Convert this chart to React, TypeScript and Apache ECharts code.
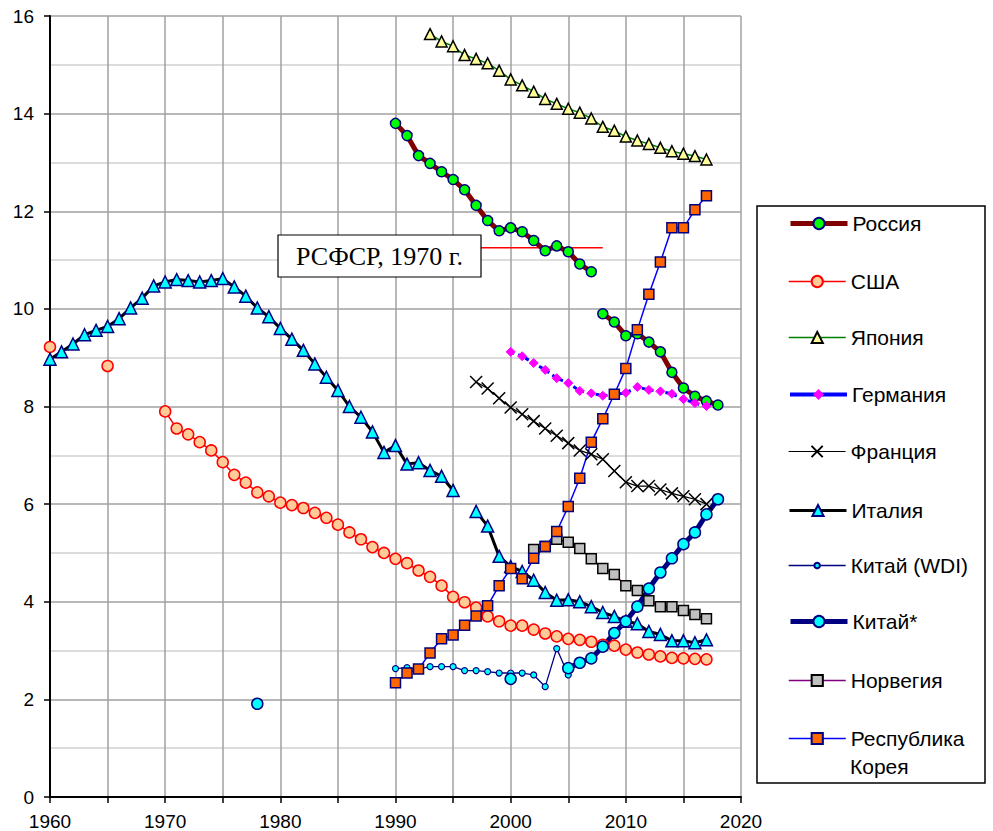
import React, { useEffect, useRef } from 'react';
import * as echarts from 'echarts';

// ---------- data ----------
const xMin = 1960;
const xMax = 2020;
const yMin = 0;
const yMax = 16;

const russiaStartA = 1990;
const russiaA = [13.8, 13.55, 13.14, 12.98, 12.81, 12.65, 12.44, 12.12, 11.81, 11.6, 11.66, 11.58, 11.4, 11.19, 11.29, 11.17, 10.92, 10.76];
const russiaStartB = 2008;
const russiaB = [9.9, 9.73, 9.45, 9.49, 9.32, 9.12, 8.7, 8.38, 8.21, 8.11, 8.03];

const usaEarly1960 = [9.22];
const usaEarly1965 = [8.83];
const usaStart = 1970;
const usaMain = [7.9, 7.55, 7.43, 7.27, 7.1, 6.86, 6.6, 6.44, 6.24, 6.16, 6.03, 5.98, 5.92, 5.82, 5.72, 5.58, 5.42, 5.28, 5.12, 5.0, 4.88, 4.79, 4.64, 4.51, 4.33, 4.1, 3.99, 3.88, 3.7, 3.6, 3.51, 3.51, 3.43, 3.35, 3.29, 3.24, 3.22, 3.18, 3.12, 3.1, 3.02, 2.96, 2.92, 2.88, 2.85, 2.84, 2.83, 2.82];

const japanStart = 1993;
const japan = [15.63, 15.48, 15.38, 15.2, 15.12, 15.03, 14.88, 14.7, 14.58, 14.45, 14.3, 14.2, 14.1, 14.02, 13.9, 13.73, 13.65, 13.53, 13.45, 13.38, 13.3, 13.23, 13.18, 13.13, 13.06];

const germanyStart = 2000;
const germany = [9.12, 9.03, 8.89, 8.75, 8.58, 8.48, 8.32, 8.27, 8.22, 8.25, 8.28, 8.4, 8.34, 8.31, 8.26, 8.15, 8.07, 8.01];

const franceStart = 1997;
const france = [8.5, 8.37, 8.17, 7.98, 7.84, 7.7, 7.55, 7.4, 7.25, 7.1, 7.02, 6.92, 6.68, 6.45, 6.37, 6.37, 6.3, 6.22, 6.16, 6.1, 6.0];

const italyStartA = 1960;
const italyA = [8.97, 9.12, 9.28, 9.47, 9.56, 9.64, 9.8, 10.02, 10.22, 10.47, 10.55, 10.6, 10.58, 10.55, 10.58, 10.62, 10.45, 10.26, 10.02, 9.84, 9.6, 9.38, 9.15, 8.87, 8.6, 8.33, 8.0, 7.78, 7.48, 7.06, 7.2, 6.82, 6.85, 6.69, 6.57, 6.28];
const italyStartB = 1997;
const italyB = [5.85, 5.55, 4.93, 4.72, 4.62, 4.44, 4.19, 4.03, 4.04, 4.0, 3.9, 3.78, 3.7, 3.6, 3.55, 3.39, 3.33, 3.2, 3.2, 3.16, 3.22];

const chinaWdiStart = 1990;
const chinaWdi = [2.63, 2.65, 2.62, 2.67, 2.67, 2.67, 2.59, 2.59, 2.57, 2.54, 2.54, 2.54, 2.5, 2.26, 3.04, 2.5];

const chinaStar1978 = [1.91];
const chinaStar2000 = [2.42];
const chinaStarStart = 2005;
const chinaStar = [2.64, 2.75, 2.84, 3.08, 3.36, 3.6, 3.9, 4.27, 4.6, 4.89, 5.18, 5.42, 5.79, 6.1];

const norwayStart = 2002;
const norway = [5.07, 5.13, 5.28, 5.22, 5.09, 4.88, 4.68, 4.56, 4.33, 4.23, 4.02, 3.9, 3.9, 3.82, 3.74, 3.65];

const koreaStart = 1990;
const korea = [2.34, 2.54, 2.62, 2.95, 3.24, 3.32, 3.52, 3.71, 3.92, 4.33, 4.68, 4.47, 4.89, 5.13, 5.44, 5.95, 6.53, 7.27, 7.75, 8.25, 8.78, 9.57, 10.3, 10.96, 11.66, 11.66, 12.03, 12.32];

const rsfsrYears = [1990, 2008];
const rsfsrValue = 11.25;
const rsfsrLabel = 'РСФСР, 1970 г.';

const names = ['Россия', 'США', 'Япония', 'Германия', 'Франция', 'Италия', 'Китай (WDI)', 'Китай*', 'Норвегия', 'Республика Корея'];

// ---------- helpers ----------
type Seg = [number, number[]];
function build(segs: Seg[]) {
  const out: any[] = [];
  segs.forEach(([start, vals], i) => {
    if (i > 0) out.push([start - 0.5, '-']);
    vals.forEach((v, j) => out.push([start + j, v]));
  });
  return out;
}

const FONT = "'Liberation Sans', Arial, sans-serif";
const X_PATH = 'path://M0,0L10,10M10,0L0,10';

// legend layout (pixel centres of each legend row)
const legendCenters = [223, 281, 337, 394, 451, 510, 565, 621, 680, 738];
const legendIconHeights = [14, 14, 14, 10, 14, 14, 7, 14, 14, 14];

export default function App() {
  const ref = useRef<HTMLDivElement>(null);
  useEffect(() => {
    if (!ref.current) return;
    const chart = echarts.init(ref.current, undefined, { renderer: 'svg' });

    const mk = (name: string, data: any[], line: any, sym: any, symbolSize: number, item: any) => ({
      name,
      type: 'line',
      data,
      symbol: sym,
      symbolSize,
      showSymbol: true,
      connectNulls: false,
      lineStyle: line,
      itemStyle: item,
      emphasis: { disabled: true },
    });

    const lines: any[] = [
      { color: '#800000', width: 5 },
      { color: '#ff0000', width: 1.5 },
      { color: '#008000', width: 1.5 },
      { color: '#0000ff', width: 3, type: [4, 4] },
      { color: '#000000', width: 1.2 },
      { color: '#000000', width: 3 },
      { color: '#000080', width: 1.3 },
      { color: '#000080', width: 5 },
      { color: '#800080', width: 1.5 },
      { color: '#0000ff', width: 1.5 },
    ];

    const series: any[] = [
      {
        name: 'rsfsr',
        type: 'line',
        data: rsfsrYears.map((y) => [y, rsfsrValue]),
        symbol: 'none',
        lineStyle: { color: '#ff0000', width: 1.5 },
        z: 1,
      },
      mk(names[0], build([[russiaStartA, russiaA], [russiaStartB, russiaB]]), lines[0], 'circle', 10, { color: '#00ff00', borderColor: '#000080', borderWidth: 1.5 }),
      mk(names[1], build([[1960, usaEarly1960], [1965, usaEarly1965], [usaStart, usaMain]]), lines[1], 'circle', 11, { color: '#ffcc99', borderColor: '#ff0000', borderWidth: 1.5 }),
      mk(names[2], build([[japanStart, japan]]), lines[2], 'triangle', 11, { color: '#ffff99', borderColor: '#000000', borderWidth: 1.5 }),
      mk(names[3], build([[germanyStart, germany]]), lines[3], 'diamond', 9, { color: '#ff00ff', borderColor: '#ff00ff', borderWidth: 1 }),
      mk(names[4], build([[franceStart, france]]), lines[4], X_PATH, 12, { color: '#000000', borderColor: '#000000', borderWidth: 1.5 }),
      mk(names[5], build([[italyStartA, italyA], [italyStartB, italyB]]), lines[5], 'triangle', 12, { color: '#00ffff', borderColor: '#000080', borderWidth: 1.5 }),
      mk(names[6], build([[chinaWdiStart, chinaWdi]]), lines[6], 'circle', 6, { color: '#00ffff', borderColor: '#000080', borderWidth: 1.2 }),
      mk(names[7], build([[1978, chinaStar1978], [2000, chinaStar2000], [chinaStarStart, chinaStar]]), lines[7], 'circle', 11, { color: '#00ffff', borderColor: '#000080', borderWidth: 1.5 }),
      mk(names[8], build([[norwayStart, norway]]), lines[8], 'rect', 10, { color: '#c0c0c0', borderColor: '#000000', borderWidth: 1.5 }),
      mk(names[9], build([[koreaStart, korea]]), lines[9], 'rect', 10, { color: '#ff6600', borderColor: '#000080', borderWidth: 1.5 }),
    ];

    // one legend component per row so each row sits exactly where the reference has it
    const legends: any[] = names.map((n, i) => ({
      orient: 'vertical',
      left: 788,
      top: legendCenters[i] - 10,
      padding: 0,
      itemWidth: 57,
      itemHeight: legendIconHeights[i],
      selectedMode: false,
      data: [
        {
          name: n,
          lineStyle: { type: 'solid', color: lines[i].color, width: i === 3 ? 4 : lines[i].width },
        },
      ],
      formatter: (nm: string) => (nm === 'Республика Корея' ? 'Республика' : nm),
      textStyle: { fontSize: 21, lineHeight: 20, color: '#000', fontFamily: FONT },
    }));

    chart.setOption({
      animation: false,
      backgroundColor: '#ffffff',
      grid: { left: 50, right: 252, top: 16, bottom: 34, containLabel: false },
      xAxis: {
        type: 'value',
        min: xMin,
        max: xMax,
        interval: 5,
        axisLine: { show: true, onZero: false, lineStyle: { color: '#000', width: 2 } },
        axisTick: { show: true, length: 6, lineStyle: { color: '#000', width: 1.5 } },
        axisLabel: {
          formatter: (v: number) => (v % 10 === 0 ? String(v) : ''),
          fontSize: 19,
          color: '#000',
          margin: 15,
          fontFamily: FONT,
        },
        splitLine: { show: true, lineStyle: { color: '#a0a0a0', width: 1.5 } },
      },
      yAxis: {
        type: 'value',
        min: yMin,
        max: yMax,
        interval: 2,
        axisLine: { show: true, lineStyle: { color: '#000', width: 2 } },
        axisTick: { show: true, length: 6, lineStyle: { color: '#000', width: 1.5 } },
        axisLabel: { fontSize: 19, color: '#000', margin: 16, fontFamily: FONT },
        splitLine: { show: true, lineStyle: { color: '#a0a0a0', width: 1.5 } },
        minorTick: { show: false, splitNumber: 2 },
        minorSplitLine: { show: true, lineStyle: { color: '#d0d0d0', width: 1.5 } },
      },
      legend: legends,
      graphic: [
        {
          type: 'rect',
          z: 100,
          shape: { x: 757, y: 206, width: 228, height: 577 },
          style: { fill: 'none', stroke: '#000', lineWidth: 1.5 },
        },
        {
          type: 'text',
          z: 100,
          x: 850,
          y: 766,
          style: {
            text: 'Корея',
            fontSize: 21,
            fontFamily: FONT,
            fill: '#000',
            align: 'left',
            textAlign: 'left',
            verticalAlign: 'middle',
            textVerticalAlign: 'middle',
          },
        },
        {
          type: 'rect',
          z: 100,
          shape: { x: 278, y: 235, width: 203, height: 42 },
          style: { fill: '#fff', stroke: '#000', lineWidth: 1.2 },
        },
        {
          type: 'text',
          z: 101,
          x: 379.5,
          y: 256,
          style: {
            text: rsfsrLabel,
            fontSize: 26,
            fontFamily: "'Liberation Serif', 'Times New Roman', serif",
            fill: '#000',
            align: 'center',
            textAlign: 'center',
            verticalAlign: 'middle',
            textVerticalAlign: 'middle',
          },
        },
      ],
      series,
    });

    return () => chart.dispose();
  }, []);

  return (
    <div
      ref={ref}
      style={{ position: 'fixed', left: 0, top: 0, width: 993, height: 831, background: '#fff' }}
    />
  );
}
